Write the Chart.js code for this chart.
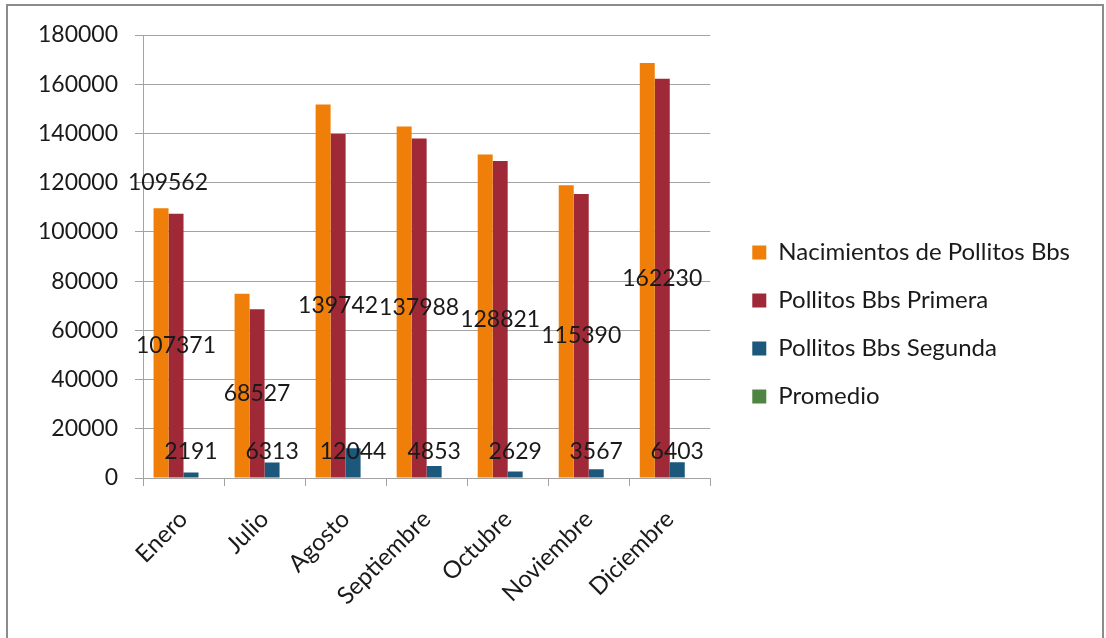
<!DOCTYPE html>
<html>
<head>
<meta charset="utf-8">
<script src="https://cdn.jsdelivr.net/npm/chart.js@4.4.1/dist/chart.umd.min.js"></script>
<style>
  body { margin: 0; background: #fff; overflow: hidden; }
  #frame { position: absolute; left: 6px; top: 4px; width: 1094px; height: 700px; border: 2px solid #8c8c8c; }
  #chart { position: absolute; left: 0; top: 0; }
</style>
</head>
<body>
<div id="frame"></div>
<canvas id="chart" width="1106" height="638"></canvas>
<script>
// datos del grafico
const months = ['Enero', 'Julio', 'Agosto', 'Septiembre', 'Octubre', 'Noviembre', 'Diciembre'];
const nacimientos = [109562, 74840, 151786, 142841, 131450, 118957, 168633];
const primera = [107371, 68527, 139742, 137988, 128821, 115390, 162230];
const segunda = [2191, 6313, 12044, 4853, 2629, 3567, 6403];
const promedio = [0, 0, 0, 0, 0, 0, 0];
const yMax = 180000;
const yStep = 20000;
// solo la primera barra naranja lleva etiqueta en el original
const nacimientosLabeled = [0];

const gridColor = '#a3a3a3';
const textColor = '#1a1a1a';
Chart.defaults.font.family = 'Lato';

// etiquetas de datos (no hay plugin datalabels)
const valueLabels = {
    id: 'valueLabels',
    afterDatasetsDraw(chart) {
        const ctx = chart.ctx;
        ctx.save();
        ctx.font = '23px Lato';
        ctx.fillStyle = textColor;
        ctx.textAlign = 'center';
        ctx.textBaseline = 'middle';
        chart.getDatasetMeta(0).data.forEach((bar, i) => {
            if (nacimientosLabeled.includes(i)) {
                ctx.fillText(String(nacimientos[i]), bar.x + 7, bar.y - 26);
            }
        });
        chart.getDatasetMeta(1).data.forEach((bar, i) => {
            ctx.fillText(String(primera[i]), bar.x, (bar.y + bar.base) / 2);
        });
        chart.getDatasetMeta(2).data.forEach((bar, i) => {
            ctx.fillText(String(segunda[i]), bar.x, bar.base - 26);
        });
        ctx.restore();
    }
};

// mover la leyenda un poco a la derecha y arriba
const legendShift = {
    id: 'legendShift',
    afterUpdate(chart) {
        const lg = chart.legend;
        lg.left += 18; lg.right += 18;
        lg.top -= 12; lg.bottom -= 12;
    }
};

new Chart(document.getElementById('chart'), {
    type: 'bar',
    data: {
        labels: months,
        datasets: [
            { label: 'Nacimientos de Pollitos Bbs', data: nacimientos, backgroundColor: '#f07f09', borderColor: '#f07f09', borderWidth: 0 },
            { label: 'Pollitos Bbs Primera', data: primera, backgroundColor: '#9f2936', borderColor: '#9f2936', borderWidth: 0 },
            { label: 'Pollitos Bbs Segunda', data: segunda, backgroundColor: '#1b587c', borderColor: '#1b587c', borderWidth: 0 },
            { label: 'Promedio', data: promedio, backgroundColor: '#4e8542', borderColor: '#4e8542', borderWidth: 0 }
        ]
    },
    options: {
        responsive: false,
        animation: false,
        devicePixelRatio: 1,
        categoryPercentage: 0.74,
        barPercentage: 1.0,
        layout: { padding: { left: 8, top: 35, right: 44, bottom: 0 } },
        plugins: {
            legend: {
                position: 'right',
                maxWidth: 400,
                labels: {
                    boxWidth: 14,
                    boxHeight: 14,
                    padding: 24,
                    color: textColor,
                    font: { size: 24 }
                }
            },
            tooltip: { enabled: false }
        },
        scales: {
            x: {
                ticks: {
                    minRotation: 45,
                    maxRotation: 45,
                    padding: 19,
                    color: textColor,
                    font: { size: 24 }
                },
                grid: { drawOnChartArea: false, drawTicks: true, tickLength: 8, color: gridColor },
                border: { display: true, color: gridColor },
                afterFit(scale) { scale.height = 160; }
            },
            y: {
                min: 0,
                max: yMax,
                ticks: {
                    stepSize: yStep,
                    padding: 17,
                    color: textColor,
                    font: { size: 23 },
                    callback: (v) => String(v)
                },
                grid: { color: gridColor, tickLength: 8 },
                border: { display: true, color: gridColor },
                afterFit(scale) { scale.width = 135; }
            }
        }
    },
    plugins: [valueLabels, legendShift]
});
</script>
</body>
</html>
